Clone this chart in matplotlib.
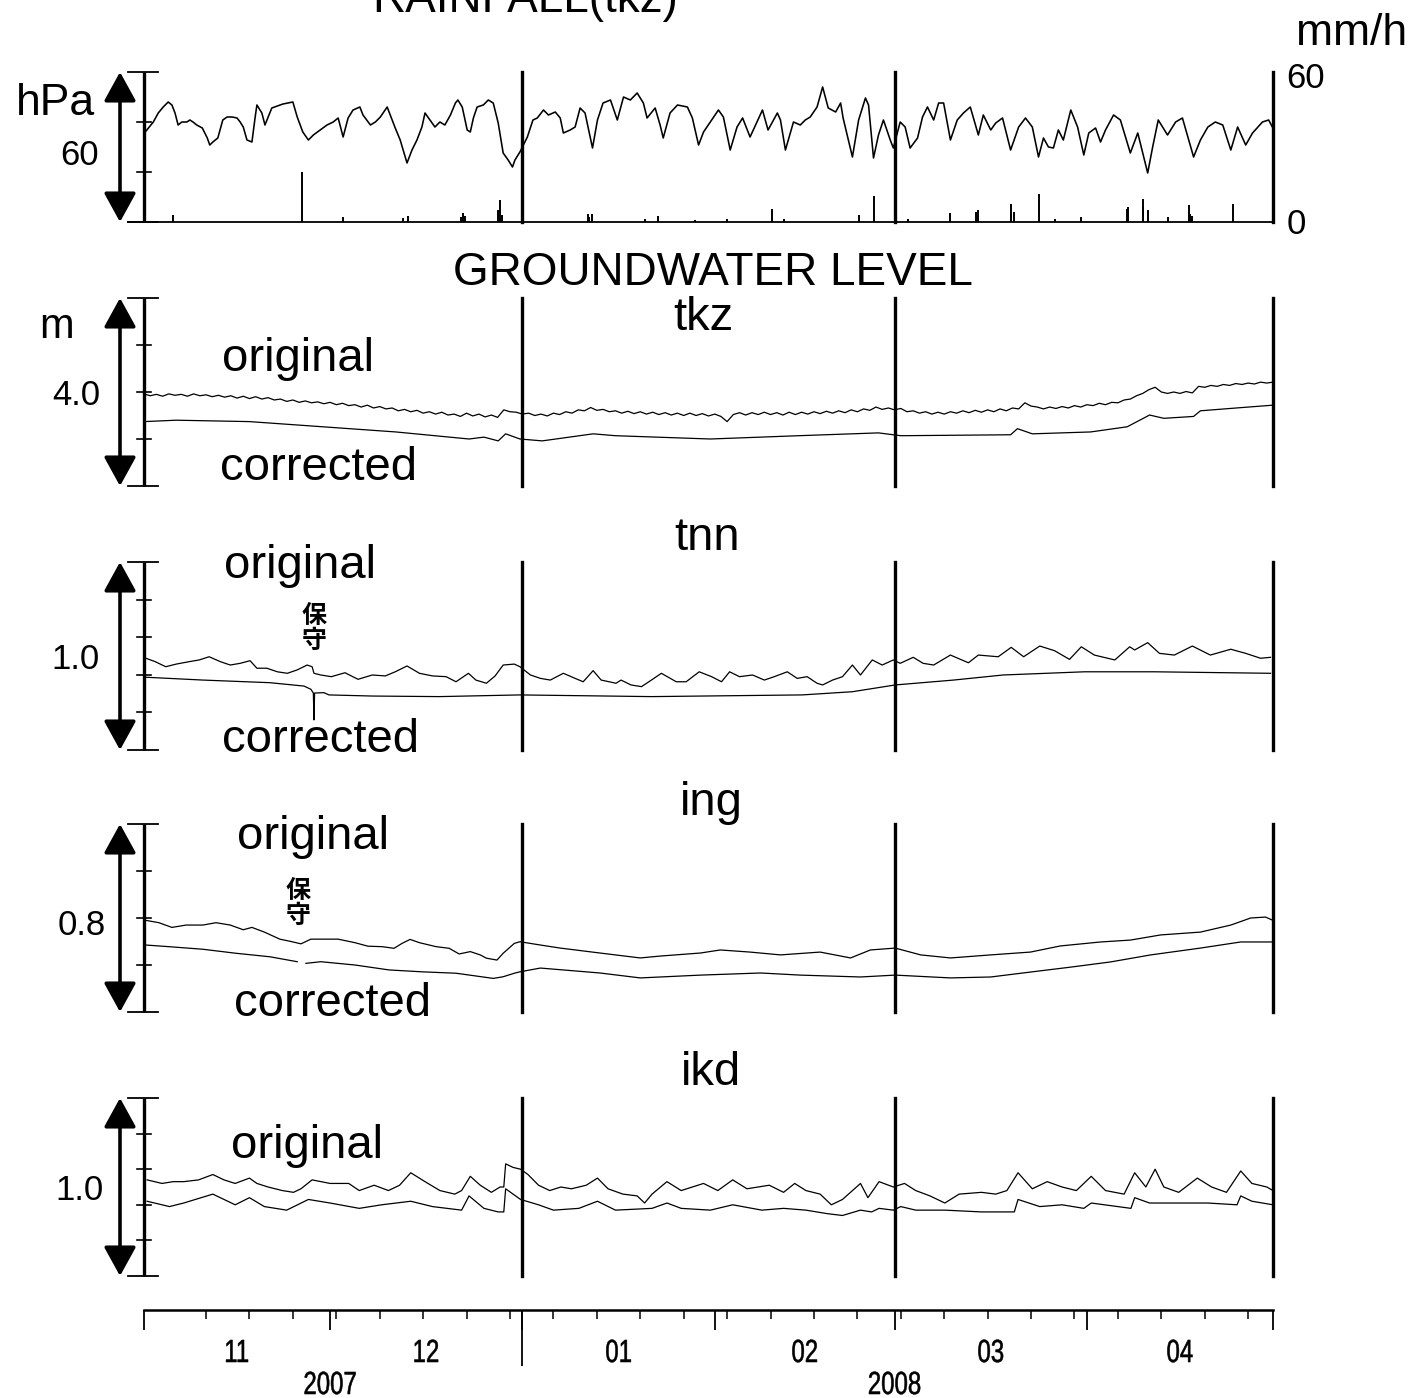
import matplotlib
matplotlib.use("Agg")
import matplotlib.pyplot as plt
import matplotlib.transforms as mtransforms
from matplotlib.font_manager import FontProperties
from matplotlib.patches import PathPatch
from matplotlib.textpath import TextPath
import numpy as np
import pandas as pd

W, H = 1415, 1398
START = pd.Timestamp("2007-11-01")
END = pd.Timestamp("2008-05-01")
NDAYS = (END - START).days
JAN1 = (pd.Timestamp("2008-01-01") - START).days
MAR1 = (pd.Timestamp("2008-03-01") - START).days

# ---- atmospheric pressure (hPa) at tkz, x = days since 2007-11-01 ----
pres_day = [
    0.2, 1.5, 2.3, 3.1, 3.9, 4.5, 5.0, 5.5, 6.1, 6.9,
    7.4, 7.9, 8.5, 9.4, 10.2, 10.6, 11.1, 11.9, 12.7, 13.4,
    14.2, 15.0, 15.5, 16.0, 16.6, 17.4, 17.9, 18.2, 19.0, 19.5,
    20.6, 22.4, 24.0, 24.7, 25.6, 26.5, 27.3, 28.4, 29.5, 30.5,
    31.3, 31.9, 32.1, 32.9, 33.7, 34.8, 35.3, 36.5, 37.3, 38.1,
    39.2, 39.7, 40.5, 41.3, 42.4, 43.2, 44.0, 44.8, 45.3, 46.1,
    46.9, 47.7, 48.5, 49.4, 50.2, 50.6, 51.3, 52.1, 52.6, 53.1,
    53.7, 54.7, 55.5, 56.3, 57.1, 57.9, 58.7, 59.4, 59.8, 60.6,
    61.8, 62.7, 63.4, 64.4, 65.2, 66.3, 67.1, 67.6, 68.7, 69.5,
    70.3, 71.1, 72.3, 73.1, 74.0, 75.2, 76.3, 77.3, 78.4, 79.5,
    80.5, 81.1, 82.4, 83.2, 83.7, 84.8, 86.0, 87.6, 88.4, 89.4,
    90.2, 91.3, 92.6, 93.4, 94.5, 95.6, 96.5, 97.7, 99.7, 100.6,
    102.1, 102.6, 103.4, 104.7, 105.8, 106.6, 107.4, 108.5, 109.4, 110.3,
    111.5, 112.3, 112.7, 114.2, 115.2, 116.3, 116.8, 117.6, 118.4, 119.2,
    120.3, 120.8, 121.9, 122.7, 123.5, 124.7, 125.5, 126.3, 127.3, 128.1,
    128.9, 130.0, 131.1, 132.1, 133.2, 134.5, 135.3, 136.5, 137.3, 138.4,
    139.7, 141.0, 142.1, 143.2, 144.2, 145.0, 145.8, 146.6, 147.4, 148.2,
    149.4, 150.5, 151.5, 152.3, 153.4, 154.2, 155.0, 156.3, 157.4, 159.0,
    160.2, 161.8, 162.6, 163.5, 165.0, 166.3, 167.4, 169.2, 170.3, 171.5,
    172.7, 173.9, 175.2, 176.3, 177.6, 178.7, 180.3, 181.3, 181.9,
]
pres_hpa = [
    1016.0, 1020.0, 1023.6, 1026.0, 1028.0, 1026.8, 1023.6, 1018.8, 1020.0, 1020.0,
    1020.8, 1020.0, 1018.8, 1017.6, 1013.6, 1010.8, 1012.0, 1013.6, 1020.8, 1022.0,
    1022.0, 1021.6, 1020.0, 1018.0, 1012.8, 1012.0, 1021.6, 1026.8, 1023.6, 1018.8,
    1025.6, 1027.2, 1028.0, 1022.0, 1016.0, 1012.8, 1014.8, 1016.8, 1018.8, 1020.0,
    1021.6, 1016.0, 1014.0, 1021.6, 1024.8, 1026.0, 1022.8, 1018.8, 1020.0, 1022.0,
    1026.0, 1022.8, 1017.6, 1012.8, 1003.6, 1008.8, 1012.8, 1018.0, 1023.6, 1020.8,
    1018.0, 1020.0, 1018.8, 1022.8, 1027.6, 1028.8, 1026.0, 1016.8, 1016.0, 1021.6,
    1026.0, 1026.8, 1028.8, 1027.6, 1019.6, 1007.6, 1004.8, 1002.0, 1004.8, 1008.0,
    1014.0, 1020.8, 1021.6, 1024.8, 1022.8, 1024.0, 1021.6, 1015.6, 1016.8, 1018.0,
    1025.6, 1023.6, 1009.6, 1020.8, 1027.6, 1028.8, 1020.8, 1030.0, 1028.8, 1031.6,
    1027.6, 1021.6, 1025.6, 1018.8, 1013.6, 1023.6, 1026.8, 1026.0, 1021.6, 1010.8,
    1016.0, 1020.0, 1024.8, 1022.0, 1008.8, 1018.0, 1021.6, 1014.0, 1024.8, 1016.8,
    1023.6, 1020.8, 1008.8, 1020.0, 1018.8, 1020.8, 1022.0, 1026.0, 1034.0, 1025.6,
    1024.0, 1027.6, 1021.6, 1006.0, 1020.8, 1029.6, 1026.8, 1005.6, 1014.8, 1020.8,
    1012.8, 1009.6, 1020.0, 1018.0, 1009.6, 1013.6, 1022.0, 1026.0, 1020.8, 1027.6,
    1027.6, 1012.8, 1020.8, 1023.6, 1026.0, 1014.8, 1022.8, 1016.8, 1019.6, 1021.6,
    1008.8, 1018.0, 1021.6, 1018.0, 1006.0, 1013.6, 1010.0, 1009.6, 1016.8, 1012.8,
    1024.8, 1018.0, 1006.8, 1015.6, 1017.6, 1012.0, 1016.8, 1022.8, 1020.8, 1007.6,
    1015.6, 999.6, 1010.0, 1020.8, 1014.8, 1020.0, 1021.6, 1006.0, 1012.8, 1018.0,
    1020.0, 1018.8, 1008.8, 1018.0, 1010.8, 1015.6, 1020.0, 1020.8, 1018.0,
]

# ---- hourly rainfall (mm/h) at tkz ----
rain_day = [4.7, 25.5, 32.1, 41.8, 42.6, 51.1, 51.5, 51.8, 57.1, 57.4,
            57.7, 71.5, 71.8, 72.3, 80.8, 82.9, 88.9, 94.0, 101.3, 103.1,
            115.2, 117.6, 123.2, 130.0, 134.2, 134.5, 139.7, 139.8, 140.2, 144.2,
            146.9, 151.0, 158.5, 158.7, 161.0, 161.1, 161.9, 165.0, 168.4, 168.7,
            169.0, 175.5]
rain_mm = [2.8, 20.0, 2.0, 1.6, 2.4, 2.0, 3.6, 2.4, 4.8, 8.8,
           3.0, 3.2, 2.0, 3.2, 1.2, 2.4, 0.8, 1.2, 5.2, 1.2,
           2.8, 10.4, 1.2, 3.6, 4.0, 4.8, 3.2, 7.2, 4.0, 11.2,
           1.2, 2.0, 5.2, 6.0, 6.0, 9.2, 4.8, 2.0, 6.8, 3.2,
           2.4, 7.2]

# ---- groundwater level (m): tkz ----
tkz_orig = [  # daily, day 0 .. 182
    1.96, 1.92, 1.95, 1.91, 1.96, 1.93, 1.95, 1.91, 1.96, 1.92,
    1.94, 1.90, 1.93, 1.89, 1.92, 1.87, 1.91, 1.86, 1.90, 1.85,
    1.88, 1.83, 1.85, 1.80, 1.83, 1.78, 1.81, 1.77, 1.79, 1.75,
    1.78, 1.73, 1.76, 1.71, 1.73, 1.68, 1.72, 1.66, 1.69, 1.64,
    1.66, 1.60, 1.63, 1.58, 1.61, 1.55, 1.58, 1.53, 1.57, 1.51,
    1.53, 1.48, 1.55, 1.49, 1.53, 1.47, 1.51, 1.46, 1.62, 1.58,
    1.57, 1.53, 1.55, 1.50, 1.53, 1.49, 1.55, 1.52, 1.58, 1.55,
    1.62, 1.60, 1.67, 1.61, 1.63, 1.58, 1.60, 1.55, 1.59, 1.54,
    1.58, 1.53, 1.57, 1.52, 1.56, 1.51, 1.55, 1.50, 1.55, 1.50,
    1.54, 1.49, 1.53, 1.48, 1.37, 1.52, 1.56, 1.51, 1.56, 1.52,
    1.57, 1.52, 1.56, 1.51, 1.57, 1.52, 1.57, 1.53, 1.58, 1.54,
    1.59, 1.55, 1.60, 1.56, 1.62, 1.58, 1.64, 1.61, 1.68, 1.63,
    1.66, 1.62, 1.65, 1.58, 1.60, 1.55, 1.58, 1.53, 1.57, 1.53,
    1.58, 1.55, 1.60, 1.56, 1.61, 1.57, 1.62, 1.58, 1.64, 1.60,
    1.66, 1.64, 1.77, 1.70, 1.68, 1.64, 1.68, 1.65, 1.69, 1.66,
    1.71, 1.68, 1.73, 1.71, 1.76, 1.73, 1.78, 1.77, 1.83, 1.85,
    1.92, 1.97, 2.05, 2.10, 2.00, 1.97, 2.00, 1.97, 2.01, 1.98,
    2.12, 2.10, 2.14, 2.12, 2.16, 2.14, 2.18, 2.16, 2.19, 2.17,
    2.21, 2.19, 2.21,
]
tkz_corr_day = [0, 5.2, 17.0, 28.8, 40.6, 52.4, 54.8, 57.1, 58.3, 60.6,
                64.2, 72.4, 76.0, 91.3, 105.5, 118.4, 120.8, 122.0, 139.7, 140.8,
                143.2, 152.6, 158.5, 162.1, 164.4, 169.2, 170.3, 176.1, 182.0]
tkz_corr = [1.37, 1.40, 1.37, 1.26, 1.15, 1.00, 1.04, 0.96, 1.11, 1.00,
            0.96, 1.11, 1.07, 1.00, 1.07, 1.13, 1.09, 1.07, 1.09, 1.22,
            1.11, 1.15, 1.26, 1.51, 1.44, 1.48, 1.60, 1.66, 1.72]

# ---- tnn ----
tnn_orig_day = [
    0.3, 1.8, 3.5, 5.2, 7.3, 8.9, 10.5, 12.3, 13.9, 15.5,
    17.1, 18.2, 19.8, 21.5, 23.1, 24.7, 26.3, 27.1, 27.4, 28.5,
    30.2, 32.4, 34.5, 36.8, 38.9, 40.5, 42.4, 44.4, 46.5, 48.7,
    50.3, 52.3, 53.5, 55.2, 56.6, 57.9, 59.7, 60.6, 62.3, 63.9,
    65.5, 67.6, 69.5, 70.8, 72.4, 73.7, 76.1, 76.9, 78.5, 80.2,
    81.8, 83.4, 85.8, 87.4, 89.5, 91.5, 93.1, 94.4, 96.0, 98.1,
    100.0, 101.6, 103.7, 105.3, 106.9, 108.5, 109.4, 111.0, 112.6, 114.2,
    115.5, 117.4, 119.0, 120.8, 121.9, 124.0, 125.6, 127.3, 130.0, 132.9,
    134.5, 137.7, 139.8, 141.8, 144.4, 146.8, 149.2, 151.1, 153.2, 156.5,
    158.9, 159.7, 161.8, 163.7, 166.1, 169.0, 171.9, 175.2, 177.6, 180.0,
    181.6,
]
tnn_orig = [
    0.488, 0.470, 0.443, 0.457, 0.470, 0.479, 0.496, 0.470, 0.452, 0.461,
    0.475, 0.435, 0.435, 0.416, 0.408, 0.426, 0.452, 0.443, 0.408, 0.399,
    0.390, 0.411, 0.376, 0.399, 0.394, 0.416, 0.447, 0.408, 0.394, 0.390,
    0.363, 0.408, 0.372, 0.355, 0.394, 0.452, 0.457, 0.443, 0.399, 0.381,
    0.372, 0.408, 0.381, 0.363, 0.422, 0.372, 0.355, 0.372, 0.346, 0.337,
    0.372, 0.408, 0.363, 0.363, 0.416, 0.390, 0.363, 0.416, 0.390, 0.399,
    0.372, 0.390, 0.416, 0.381, 0.390, 0.355, 0.346, 0.372, 0.390, 0.452,
    0.399, 0.479, 0.452, 0.479, 0.461, 0.493, 0.461, 0.452, 0.505, 0.464,
    0.505, 0.496, 0.546, 0.496, 0.553, 0.528, 0.482, 0.549, 0.505, 0.479,
    0.549, 0.532, 0.571, 0.514, 0.505, 0.553, 0.505, 0.536, 0.514, 0.488,
    0.493,
]
tnn_corr_day = [0.3, 9.5, 20.3, 25.8, 26.9, 27.3, 27.4, 27.5, 29.0, 29.8,
                36.8, 47.6, 60.6, 81.8, 106.1, 114.2, 121.1, 130.5, 138.5, 151.6,
                162.9, 181.6]
tnn_corr = [0.387, 0.372, 0.358, 0.340, 0.323, 0.303, 0.160, 0.303, 0.305, 0.293,
            0.287, 0.284, 0.293, 0.284, 0.293, 0.310, 0.346, 0.372, 0.399, 0.416,
            0.416, 0.408]

# ---- ing ----
ing_orig_day = [
    0.3, 2.4, 4.5, 6.8, 9.5, 11.6, 13.9, 16.0, 17.4, 19.4,
    21.9, 23.7, 25.3, 26.9, 29.0, 31.3, 34.0, 36.1, 38.4, 40.3,
    41.6, 42.9, 44.4, 47.1, 49.2, 50.8, 52.6, 54.2, 55.2, 56.9,
    57.9, 59.7, 60.6, 63.9, 67.1, 73.5, 80.0, 83.2, 89.7, 92.9,
    97.7, 102.6, 109.0, 113.9, 117.1, 121.1, 125.2, 130.0, 136.5, 142.9,
    147.7, 154.2, 159.0, 163.9, 170.3, 175.2, 178.4, 180.8, 181.9,
]
ing_orig = [
    0.39, 0.38, 0.36, 0.37, 0.37, 0.38, 0.37, 0.35, 0.36, 0.34,
    0.31, 0.30, 0.29, 0.31, 0.31, 0.31, 0.295, 0.28, 0.278, 0.271,
    0.292, 0.309, 0.295, 0.278, 0.271, 0.247, 0.257, 0.243, 0.229, 0.221,
    0.250, 0.292, 0.299, 0.285, 0.272, 0.251, 0.230, 0.238, 0.251, 0.264,
    0.255, 0.243, 0.255, 0.230, 0.264, 0.272, 0.243, 0.230, 0.243, 0.255,
    0.281, 0.298, 0.306, 0.328, 0.340, 0.370, 0.400, 0.404, 0.391,
]
ing_corr_day = [0.3, 4.0, 9.5, 14.8, 20.3, 24.7, 25.4, 26.1, 28.5, 34.0,
                39.5, 44.8, 50.3, 56.3, 57.9, 59.7, 60.6, 63.9, 73.5, 80.0,
                89.7, 99.4, 105.8, 115.5, 121.1, 130.0, 136.5, 142.9, 149.4, 155.8,
                162.3, 170.3, 176.8, 181.9]
ing_corr = [0.285, 0.278, 0.267, 0.250, 0.235, 0.214, np.nan, 0.207, 0.214, 0.200,
            0.179, 0.171, 0.165, 0.143, 0.150, 0.165, 0.171, 0.187, 0.166, 0.145,
            0.157, 0.166, 0.157, 0.149, 0.157, 0.145, 0.149, 0.170, 0.191, 0.213,
            0.243, 0.272, 0.298, 0.298]

# ---- ikd ----
ikd_orig_day = [
    0.5, 2.9, 4.7, 6.4, 8.8, 11.1, 12.9, 14.7, 17.0, 18.2,
    20.0, 22.3, 24.1, 25.3, 27.1, 30.0, 33.0, 34.7, 37.1, 39.4,
    41.2, 43.0, 45.3, 47.7, 50.1, 51.2, 52.6, 54.2, 56.0, 57.4,
    58.0, 58.3, 59.5, 60.7, 61.9, 63.6, 65.4, 67.2, 68.9, 71.3,
    73.1, 74.8, 77.2, 79.5, 80.7, 81.9, 84.3, 86.6, 90.2, 92.5,
    94.9, 97.2, 100.8, 103.1, 104.9, 106.7, 109.0, 110.8, 112.6, 115.5,
    116.7, 118.5, 120.8, 122.6, 124.4, 126.7, 129.1, 131.4, 135.0, 137.3,
    139.1, 140.9, 143.2, 145.6, 148.0, 150.3, 152.7, 155.0, 158.0, 159.7,
    161.5, 163.0, 164.4, 166.8, 169.8, 172.1, 174.5, 176.8, 178.6, 181.0,
    182.0,
]
ikd_orig = [
    0.54, 0.52, 0.53, 0.53, 0.54, 0.57, 0.54, 0.52, 0.55, 0.52,
    0.50, 0.48, 0.47, 0.49, 0.54, 0.52, 0.52, 0.48, 0.51, 0.48,
    0.51, 0.58, 0.53, 0.48, 0.46, 0.48, 0.56, 0.51, 0.47, 0.50,
    0.50, 0.63, 0.61, 0.60, 0.57, 0.51, 0.48, 0.50, 0.49, 0.51,
    0.55, 0.49, 0.46, 0.45, 0.41, 0.46, 0.53, 0.48, 0.52, 0.48,
    0.54, 0.49, 0.51, 0.47, 0.52, 0.48, 0.46, 0.40, 0.43, 0.52,
    0.44, 0.53, 0.50, 0.52, 0.48, 0.45, 0.41, 0.46, 0.47, 0.46,
    0.48, 0.58, 0.49, 0.53, 0.50, 0.48, 0.56, 0.48, 0.46, 0.58,
    0.50, 0.60, 0.50, 0.47, 0.55, 0.50, 0.47, 0.59, 0.52, 0.50,
    0.48,
]
ikd_corr_day = [
    0.5, 4.1, 6.4, 11.1, 14.7, 17.0, 19.4, 23.0, 26.5, 30.0,
    34.7, 38.3, 43.0, 46.5, 51.2, 52.4, 54.8, 57.1, 58.0, 58.3,
    60.7, 63.6, 66.0, 70.1, 73.1, 76.0, 81.9, 84.3, 86.6, 91.3,
    94.9, 99.6, 103.1, 106.7, 110.2, 112.6, 115.5, 117.3, 118.5, 120.8,
    122.0, 124.4, 129.1, 135.0, 140.3, 140.9, 144.4, 148.0, 151.5, 152.7,
    159.1, 159.7, 162.1, 166.8, 171.5, 176.2, 176.8, 178.6, 182.0,
]
ikd_corr = [
    0.42, 0.39, 0.41, 0.46, 0.40, 0.44, 0.39, 0.37, 0.43, 0.41,
    0.38, 0.40, 0.42, 0.39, 0.37, 0.45, 0.38, 0.36, 0.36, 0.49,
    0.43, 0.40, 0.37, 0.38, 0.42, 0.37, 0.38, 0.41, 0.38, 0.37,
    0.40, 0.37, 0.38, 0.37, 0.35, 0.34, 0.37, 0.36, 0.38, 0.37,
    0.39, 0.37, 0.37, 0.36, 0.36, 0.43, 0.39, 0.40, 0.38, 0.41,
    0.38, 0.44, 0.41, 0.41, 0.41, 0.40, 0.45, 0.42, 0.40,
]

plt.rcParams["font.family"] = ["Liberation Sans", "Noto Sans CJK JP", "DejaVu Sans"]
LINE = dict(color="black", lw=0.9)
CJK = ["Noto Sans CJK JP", "DejaVu Sans"]

fig = plt.figure(figsize=(W / 100, H / 100), dpi=100)
AX_L, AX_W = 144, 1129
PX = 1.0 / AX_W


def px(x, y):
    return x / W, 1 - y / H


def panel(top, bottom):
    return fig.add_axes([AX_L / W, 1 - bottom / H, AX_W / W, (bottom - top) / H])


def frame(ax, lo, hi, step):
    ax.set_xlim(0, NDAYS)
    ax.set_ylim(lo, hi)
    ax.axis("off")
    tr = ax.get_yaxis_transform()
    ax.plot([0, 0], [lo, hi], transform=tr, color="k", lw=2.4, clip_on=False,
            solid_capstyle="butt")
    for v in np.arange(lo + step, hi - step / 2, step):
        ax.plot([-7 * PX, 7 * PX], [v, v], transform=tr, color="k", lw=1.2, clip_on=False)
    for v in (lo, hi):
        ax.plot([-16 * PX, 14 * PX], [v, v], transform=tr, color="k", lw=1.3, clip_on=False)
    for d in (JAN1, MAR1, NDAYS):
        ax.axvline(d, color="k", lw=2.4, clip_on=False)
    ax.annotate("", xy=(-24 * PX, 1), xytext=(-24 * PX, 0), xycoords="axes fraction",
                arrowprops=dict(arrowstyle="<|-|>,head_length=1.0,head_width=0.55",
                                mutation_scale=18, lw=2.6, color="k",
                                shrinkA=0, shrinkB=0))


def label(x, y, s, size, **kw):
    fig.text(*px(x, y), s, fontsize=size, ha="center", va="baseline", **kw)


def hoshu(x, y):
    # maintenance mark, written vertically
    fig.text(*px(x, y), "保", fontsize=18, fontweight="bold", family=CJK,
             ha="center", va="center")
    fig.text(*px(x, y + 25), "守", fontsize=18, fontweight="bold", family=CJK,
             ha="center", va="center")


NARROW_FP = FontProperties(family="Liberation Sans")


def narrow(ax, xd, y_px, s, em_px=32, squeeze=0.75):
    # condensed date label: glyph outlines squeezed horizontally,
    # centred on data x and drawn with its baseline at y_px (from the top)
    tp = TextPath((0, 0), s, size=em_px, prop=NARROW_FP)
    bb = tp.get_extents()
    xc = ax.transData.transform((xd, 0))[0]
    tr = (mtransforms.Affine2D()
          .translate(-(bb.x0 + bb.width / 2), 0)
          .scale(squeeze, 1)
          .translate(xc, H - y_px))
    fig.add_artist(PathPatch(tp, transform=tr, facecolor="k", edgecolor="k", lw=0.4))


# pressure + rainfall
ax1 = panel(72, 222)
frame(ax1, 980, 1040, 20)
ax1.plot(pres_day, pres_hpa, color="black", lw=1.15)
ax1.plot([-16 * PX, 1], [980, 980], transform=ax1.get_yaxis_transform(),
         color="k", lw=1.3, clip_on=False)
ax1r = ax1.twinx()
ax1r.set_ylim(0, 60)
ax1r.axis("off")
ax1r.vlines(rain_day, 0, rain_mm, color="black", lw=1.4)

label(525, 12, "RAINFALL(tkz)", 33)
label(55, 115, "hPa", 32)
label(80, 165, "60", 25)
label(1352, 45, "mm/h", 32)
label(1306, 88, "60", 25)
label(1296, 234, "0", 25)

label(713, 285, "GROUNDWATER LEVEL", 33)

# tkz
ax2 = panel(298, 486)
frame(ax2, 0, 4, 1)
ax2.plot(np.arange(len(tkz_orig)), tkz_orig, **LINE)
ax2.plot(tkz_corr_day, tkz_corr, **LINE)
label(703, 330, "tkz", 34)
label(57, 338, "m", 30)
label(76, 405, "4.0", 25)
label(298, 371, "original", 34)
label(318, 480, "corrected", 34)

# tnn
ax3 = panel(562, 750)
frame(ax3, 0, 1.0, 0.2)
ax3.plot(tnn_orig_day, tnn_orig, **LINE)
ax3.plot(tnn_corr_day, tnn_corr, **LINE)
label(707, 550, "tnn", 34)
label(76, 669, "1.0", 25)
label(300, 578, "original", 34)
label(321, 752, "corrected", 34)
hoshu(314, 616)

# ing
ax4 = panel(824, 1012)
frame(ax4, 0, 0.8, 0.2)
ax4.plot(ing_orig_day, ing_orig, **LINE)
ax4.plot(ing_corr_day, ing_corr, **LINE)
label(711, 815, "ing", 34)
label(82, 935, "0.8", 25)
label(313, 849, "original", 34)
label(333, 1016, "corrected", 34)
hoshu(298, 891)

# ikd
ax5 = panel(1098, 1276)
frame(ax5, 0, 1.0, 0.2)
ax5.plot(ikd_orig_day, ikd_orig, **LINE)
ax5.plot(ikd_corr_day, ikd_corr, **LINE)
label(711, 1085, "ikd", 34)
label(80, 1200, "1.0", 25)
label(307, 1158, "original", 34)

# time axis
axt = fig.add_axes([AX_L / W, 1 - 1398 / H, AX_W / W, 88 / H])
axt.set_xlim(0, NDAYS)
axt.set_ylim(88, 0)
axt.axis("off")
axt.plot([0, NDAYS], [0, 0], color="k", lw=1.8, clip_on=False)
sundays = (pd.date_range("2007-11-11", END, freq="W-SUN") - START).days
axt.vlines(sundays, 0, 9, color="k", lw=1.1)
month_starts = pd.date_range(START, END, freq="MS")
axt.vlines((month_starts - START).days, 0, 20, color="k", lw=1.3, clip_on=False)
axt.vlines([JAN1], 0, 56, color="k", lw=1.3)
for m0, m1 in zip(month_starts[:-1], month_starts[1:]):
    mid = ((m0 - START).days + (m1 - START).days) / 2
    narrow(axt, mid, 1362, m0.strftime("%m"))
for year, d in (("2007", "2007-12-01"), ("2008", "2008-03-01")):
    narrow(axt, (pd.Timestamp(d) - START).days, 1394, year)

fig.savefig("out.png", dpi=100)
